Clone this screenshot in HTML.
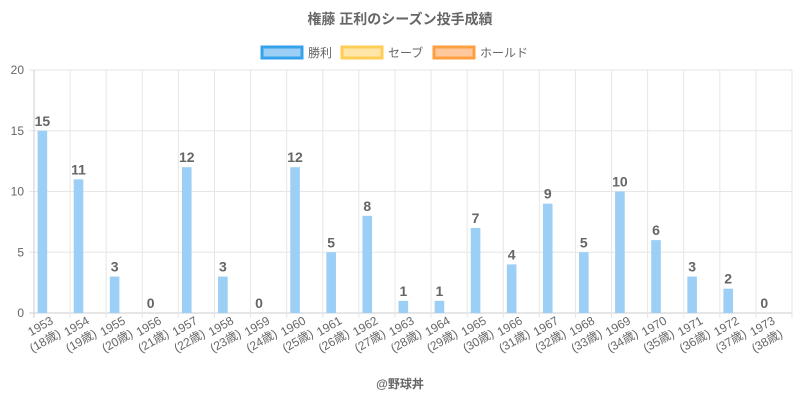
<!DOCTYPE html>
<html><head><meta charset="utf-8">
<style>
html,body{margin:0;padding:0;background:#fff;}
svg{display:block;font-family:"Liberation Sans","Noto Sans CJK JP",sans-serif;}
</style></head>
<body>
<svg id="c" width="800" height="400" xmlns="http://www.w3.org/2000/svg">
<text x="400" y="24" text-anchor="middle" font-size="14" font-weight="bold" fill="#666">権藤 正利のシーズン投手成績</text>
<rect x="262" y="47" width="40" height="11" fill="#9ccff5" stroke="#36a2eb" stroke-width="3"/>
<text x="308" y="57" font-size="12" fill="#666">勝利</text>
<rect x="342" y="47" width="40" height="11" fill="#ffe6a8" stroke="#ffcd56" stroke-width="3"/>
<text x="388" y="57" font-size="12" fill="#666">セーブ</text>
<rect x="434" y="47" width="40" height="11" fill="#ffc79c" stroke="#ff9f40" stroke-width="3"/>
<text x="480" y="57" font-size="12" fill="#666">ホールド</text>
<g id="g"></g>
<text x="400" y="388" text-anchor="middle" font-size="12" font-weight="bold" fill="#666">@野球丼</text>
</svg>
<script>
var v=[15,11,3,0,12,3,0,12,5,8,1,1,7,4,9,5,10,6,3,2,0];
var L=34,R=792,T=70,B=313,w=(R-L)/21,u=(B-T)/20,s='';
for(var k=0;k<=4;k++){var y=B-k*5*u;
 s+='<line x1="'+(L-5)+'" x2="'+R+'" y1="'+y+'" y2="'+y+'" stroke="'+(k==0?'#ccc':'#e6e6e6')+'"/>';
 s+='<text x="'+(L-10)+'" y="'+(y+4)+'" text-anchor="end" font-size="12" fill="#666">'+(k*5)+'</text>';}
for(var i=0;i<=21;i++){var x=L+i*w;
 s+='<line x1="'+x+'" x2="'+x+'" y1="'+T+'" y2="'+(B+5)+'" stroke="'+(i==0?'#ccc':'#e6e6e6')+'"/>';}
for(var i=0;i<21;i++){var x=L+i*w+3.6,h=v[i]*u,cx=x+4.8;
 if(h>0)s+='<rect x="'+x+'" y="'+(B-h)+'" width="9.6" height="'+h+'" fill="#9ccff5"/>';
 s+='<text x="'+cx+'" y="'+(B-h-5)+'" text-anchor="middle" font-size="14" font-weight="bold" fill="#666">'+v[i]+'</text>';
 var tx=L+i*w+w/2+2,ty=323;
 s+='<g transform="translate('+tx+','+ty+') rotate(-30)"><text x="0" y="0" text-anchor="end" font-size="12" fill="#666">'+(1953+i)+'</text><text x="0" y="15" text-anchor="end" font-size="12" fill="#666">('+(18+i)+'歳)</text></g>';}
document.getElementById('g').innerHTML=s;
</script>
</body></html>
